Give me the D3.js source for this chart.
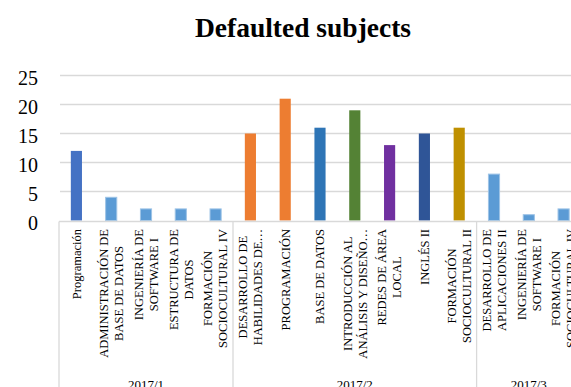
<!DOCTYPE html>
<html>
<head>
<meta charset="utf-8">
<script src="https://cdn.jsdelivr.net/npm/d3@7"></script>
<style>
  body { margin: 0; background: #fff; }
  svg { display: block; font-family: "Liberation Serif", "Times New Roman", serif; }
</style>
</head>
<body>
<div class="canvas"></div>
<script>
// data
const subjects = [
  ['Programación'],
  ['ADMINISTRACIÓN DE', 'BASE DE DATOS'],
  ['INGENIERÍA DE', 'SOFTWARE I'],
  ['ESTRUCTURA DE', 'DATOS'],
  ['FORMACIÓN', 'SOCIOCULTURAL IV'],
  ['DESARROLLO DE', 'HABILIDADES DE…'],
  ['PROGRAMACIÓN'],
  ['BASE DE DATOS'],
  ['INTRODUCCIÓN AL', 'ANÁLISIS Y DISEÑO…'],
  ['REDES DE ÁREA', 'LOCAL'],
  ['INGLÉS II'],
  ['FORMACIÓN', 'SOCIOCULTURAL II'],
  ['DESARROLLO DE', 'APLICACIONES II'],
  ['INGENIERÍA DE', 'SOFTWARE I'],
  ['FORMACIÓN', 'SOCIOCULTURAL IV']
];
const defaulted = [12, 4, 2, 2, 2, 15, 21, 16, 19, 13, 15, 16, 8, 1, 2];
const periods = ['2017/1', '2017/2', '2017/3'];
const periodSizes = [5, 7, 3];
const yTicks = [0, 5, 10, 15, 20, 25];

// styles
const barColors = ['#4472c4', '#5b9bd5', '#5b9bd5', '#5b9bd5', '#5b9bd5',
  '#ed7d31', '#ed7d31', '#2e75b6', '#548235', '#7030a0', '#2f5597', '#bf9000',
  '#5b9bd5', '#5b9bd5', '#5b9bd5'];

const width = 571, height = 387;
const svg = d3.select('.canvas')
  .append('svg')
    .attr('width', width)
    .attr('height', height);

const left = 59, right = 581, y0 = 220.5, yTop = 75.5;

const x = d3.scaleBand()
  .domain(d3.range(defaulted.length))
  .range([left, right])
  .paddingInner(0.68)
  .paddingOuter(0.34);

const y = d3.scaleLinear()
  .domain([0, 25])
  .range([y0, yTop]);

// title
svg.append('text')
  .attr('x', 303)
  .attr('y', 37)
  .attr('text-anchor', 'middle')
  .attr('font-size', 27.5)
  .attr('font-weight', 'bold')
  .attr('fill', '#000')
  .text('Defaulted subjects');

// gridlines
svg.append('g')
  .selectAll('line')
  .data(yTicks.filter(d => d > 0))
  .enter().append('line')
    .attr('x1', left + 1)
    .attr('x2', width)
    .attr('y1', d => y(d))
    .attr('y2', d => y(d))
    .attr('stroke', '#d9d9d9')
    .attr('stroke-width', 1.3);

// y axis
const yAxisGroup = svg.append('g')
  .attr('transform', 'translate(40, 0)')
  .call(d3.axisLeft(y).tickValues(yTicks).tickSize(0).tickPadding(2));
yAxisGroup.select('.domain').remove();
yAxisGroup.selectAll('text')
  .attr('font-family', '"Liberation Serif", serif')
  .attr('font-size', 20)
  .attr('fill', '#000')
  .attr('dy', '0.45em');

// bars
svg.append('g')
  .selectAll('rect')
  .data(defaulted)
  .enter().append('rect')
    .attr('x', (d, i) => x(i))
    .attr('y', d => y(d))
    .attr('width', x.bandwidth())
    .attr('height', d => y0 - y(d))
    .attr('fill', (d, i) => barColors[i])
    .attr('stroke', (d, i) => barColors[i] === '#5b9bd5' ? '#9dc3e6' : 'none')
    .attr('stroke-width', 1);

// category frame
const frame = svg.append('g')
  .attr('stroke', '#d9d9d9')
  .attr('stroke-width', 1.3);
frame.append('line')
  .attr('x1', left).attr('x2', width)
  .attr('y1', y0 + 1).attr('y2', y0 + 1);

let start = 0;
const bounds = [];
periodSizes.forEach(n => {
  const a = x(start) - x.step() * x.paddingInner() / 2;
  const b = x(start + n - 1) + x.bandwidth() + x.step() * x.paddingInner() / 2;
  bounds.push([a, b]);
  start += n;
});
bounds.forEach(b => {
  frame.append('line')
    .attr('x1', b[0]).attr('x2', b[0])
    .attr('y1', y0 + 1).attr('y2', height);
});

// subject labels: block hangs from the axis, lines centred on each other
const labels = svg.append('g')
  .selectAll('g')
  .data(subjects)
  .enter().append('g')
    .attr('transform', (d, i) => `translate(${x(i) + x.bandwidth() / 2}, 229) rotate(-90)`);
labels.append('text')
  .attr('text-anchor', 'middle')
  .attr('font-size', 12.5)
  .attr('fill', '#000')
  .each(function(lines) {
    const t = d3.select(this);
    const spans = lines.map((s, k) => t.append('tspan')
      .attr('y', (k - (lines.length - 1) / 2) * 15 + 4.3)
      .text(s));
    const longest = d3.max(spans, sp => sp.node().getComputedTextLength());
    spans.forEach(sp => sp.attr('x', -longest / 2));
  });

// period labels
svg.append('g')
  .selectAll('text')
  .data(periods)
  .enter().append('text')
    .attr('x', (d, i) => (bounds[i][0] + bounds[i][1]) / 2)
    .attr('y', 389)
    .attr('text-anchor', 'middle')
    .attr('font-size', 13)
    .attr('fill', '#000')
    .text(d => d);
</script>
</body>
</html>
